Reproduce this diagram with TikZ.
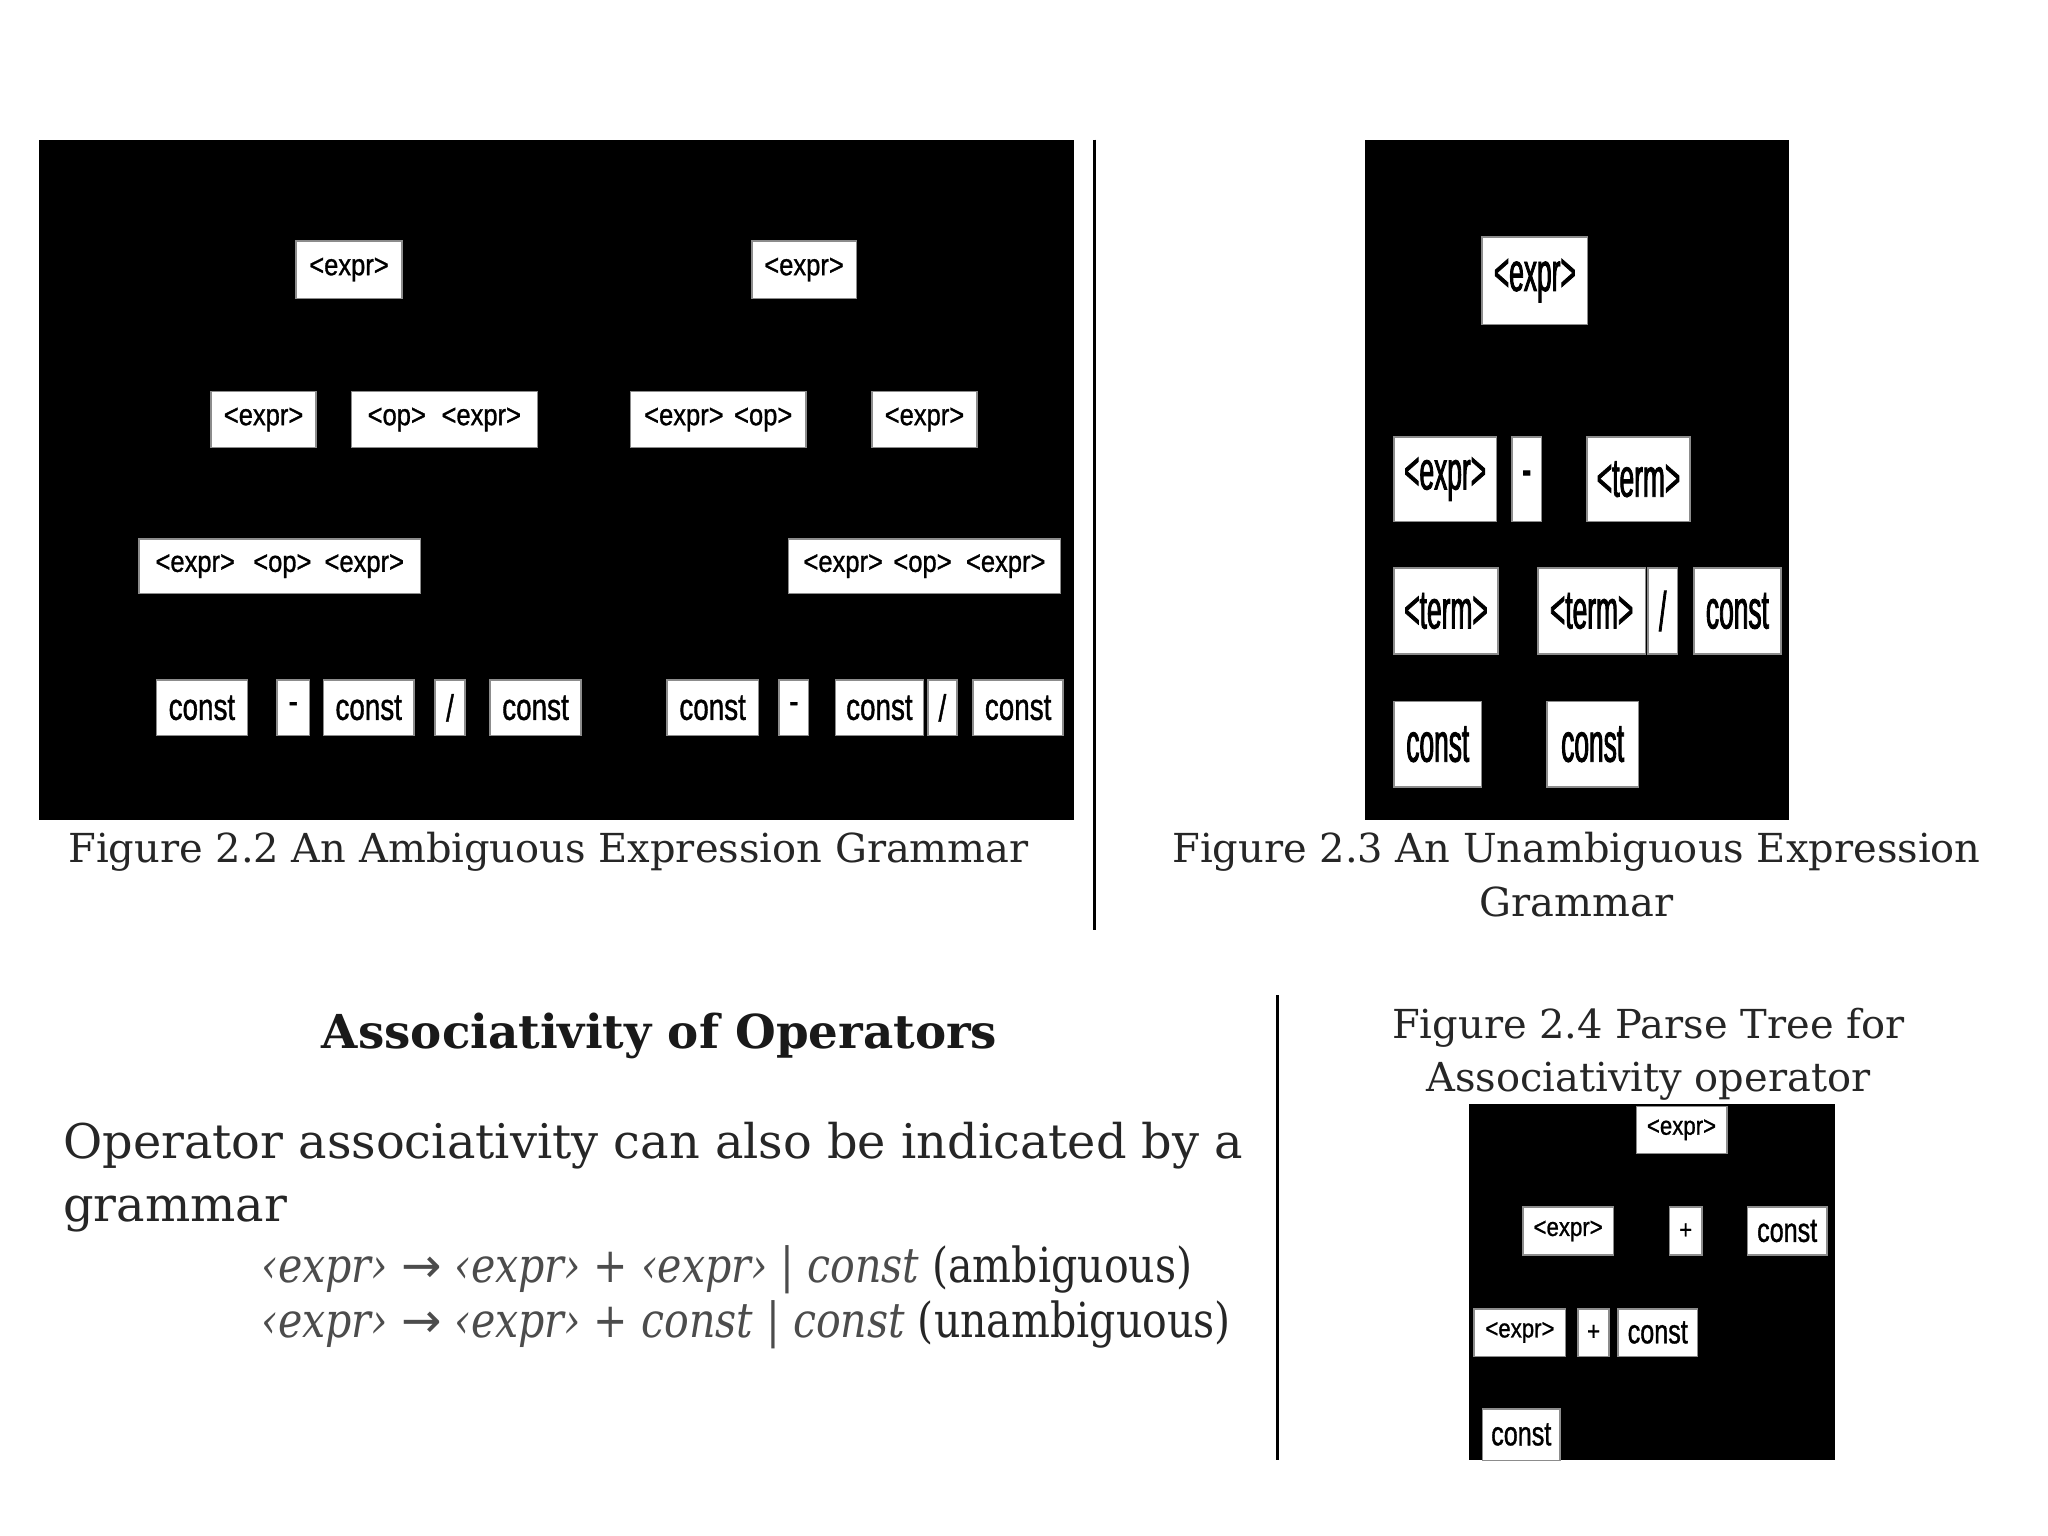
\documentclass[tikz,border=0pt]{standalone}
\usepackage{fontspec}
\setmainfont{DejaVu Serif}
\newfontfamily\exprfont[FakeStretch=0.85, FakeBold=1]{Liberation Sans}
\newfontfamily\constfont[FakeStretch=0.74, FakeBold=1]{Liberation Sans}
\newfontfamily\tallfont[FakeStretch=0.48, FakeBold=1.5]{Liberation Sans}
\newfontfamily\rulefont[FakeStretch=0.85]{DejaVu Serif}
\newfontfamily\arrowfont{DejaVu Sans}
\usetikzlibrary{positioning}

\begin{document}
\begin{tikzpicture}[
    x=0.5pt, y=-0.5pt,
    tok/.style={rectangle, fill=white, draw=black!45, line width=0.6pt,
                inner sep=0pt, text=black},
    small/.style={tok, font=\exprfont\fontsize{11.5}{12}\selectfont},
    smallc/.style={tok, font=\constfont\fontsize{14.4}{15}\selectfont},
    tall/.style={tok, font=\tallfont\fontsize{21}{22}\selectfont},
    tiny/.style={tok, font=\exprfont\fontsize{10}{11}\selectfont},
    tinyc/.style={tok, font=\constfont\fontsize{13}{14}\selectfont},
    capt/.style={inner sep=0pt, text=black!85, font=\fontsize{15.3}{18}\selectfont},
    prose/.style={inner sep=0pt, anchor=base west, text=black!85,
                  font=\fontsize{18.3}{21}\selectfont},
    rule/.style={inner sep=0pt, anchor=base west, text=black!85,
                 font=\rulefont\fontsize{18.5}{20}\selectfont}
]
    \useasboundingbox (0,0) rectangle (1568,1176);

    % Figure 2.2
    \fill[black] (30,107) rectangle (822,628);
    \node[small, minimum width=40.5pt, minimum height=22pt] (a1) at (267.2,206.4) {<expr>};
    \node[small, minimum width=40pt, minimum height=22pt] (b1) at (615.6,206.4) {<expr>};
    \node[small, minimum width=40.2pt, minimum height=21.5pt] (a2) at (201.8,321.2) {<expr>};
    \node[small, minimum width=71.2pt, minimum height=21.5pt] (a3) at (340.2,321.2) {<op>\hspace{6pt}<expr>};
    \node[small, minimum width=67.2pt, minimum height=21.5pt] (b2) at (549.9,321.2) {<expr>\hspace{4pt}<op>};
    \node[small, minimum width=40.3pt, minimum height=21.5pt] (b3) at (707.8,321.2) {<expr>};
    \node[small, minimum width=107.9pt, minimum height=21pt] (a4) at (214.2,433.5) {<expr>\hspace{7pt}<op>\hspace{5pt}<expr>};
    \node[small, minimum width=104.2pt, minimum height=21pt] (b4) at (707.8,433.5) {<expr>\hspace{4pt}<op>\hspace{5.5pt}<expr>};
    \node[smallc, minimum width=34.9pt, minimum height=21.25pt] (a5) at (154.6,542) {const};
    \node[smallc, minimum width=12.5pt, minimum height=21.25pt] (a6) at (224.5,542) {-};
    \node[smallc, minimum width=34.75pt, minimum height=21.25pt] (a7) at (282.3,542) {const};
    \node[smallc, minimum width=11.5pt, minimum height=21.25pt] (a8) at (344.5,542) {/};
    \node[smallc, minimum width=35pt, minimum height=21.25pt] (a9) at (410,542) {const};
    \node[smallc, minimum width=35pt, minimum height=21.25pt] (b5) at (545.6,542) {const};
    \node[smallc, minimum width=11.2pt, minimum height=21.25pt] (b6) at (607.8,542) {-};
    \node[smallc, minimum width=33.7pt, minimum height=21.25pt] (b7) at (673.3,542) {const};
    \node[smallc, minimum width=11pt, minimum height=21.25pt] (b8) at (721.5,542) {/};
    \node[smallc, minimum width=34.5pt, minimum height=21.25pt] (b9) at (779.5,542) {const};
    \node[capt, anchor=base] (cap22) at (420,660) {Figure 2.2 An Ambiguous Expression Grammar};

    \draw[line width=1pt] (838,107) -- (838,712);

    % Figure 2.3
    \fill[black] (1045,107) rectangle (1370,628);
    \node[tall, minimum width=40.3pt, minimum height=33.4pt] (u1) at (1175.1,214.9) {<expr>};
    \node[tall, minimum width=39.2pt, minimum height=32.4pt] (u2) at (1106.4,366.9) {<expr>};
    \node[tall, minimum width=11.4pt, minimum height=32.4pt] (u3) at (1168.9,366.9) {-};
    \node[tall, minimum width=39.6pt, minimum height=32.4pt] (u4) at (1254.5,366.9) {<term>};
    \node[tall, minimum width=39.9pt, minimum height=32.75pt] (u5) at (1107.1,467.8) {<term>};
    \node[tall, minimum width=41.2pt, minimum height=32.75pt] (u6) at (1218.6,467.8) {<term>};
    \node[tall, minimum width=11.4pt, minimum height=32.75pt] (u7) at (1273,467.8) {/};
    \node[tall, minimum width=33.3pt, minimum height=32.75pt] (u8) at (1330.2,467.8) {const};
    \node[tall, minimum width=33.6pt, minimum height=32.8pt] (u9) at (1100.8,569.8) {const};
    \node[tall, minimum width=35pt, minimum height=32.8pt] (u10) at (1219.4,569.8) {const};
    \node[capt, anchor=base] (cap23a) at (1207,660) {Figure 2.3 An Unambiguous Expression};
    \node[capt, anchor=base] (cap23b) at (1207,702) {Grammar};

    % Associativity of Operators
    \node[inner sep=0pt, anchor=base, text=black!90, font=\bfseries\fontsize{17.9}{20}\selectfont] (head) at (505,803) {Associativity of Operators};
    \node[prose] (txt1) at (48,887) {Operator associativity can also be indicated by a};
    \node[prose] (txt2) at (48,935) {grammar};
    \node[rule] (rule1) at (200,982) {{\color{black!70}\itshape ‹expr› {\arrowfont→} ‹expr› + ‹expr› | const} (ambiguous)};
    \node[rule] (rule2) at (200,1024) {{\color{black!70}\itshape ‹expr› {\arrowfont→} ‹expr› + const | const} (unambiguous)};

    \draw[line width=1pt] (978,762) -- (978,1118);

    % Figure 2.4
    \node[capt, anchor=base] (cap24a) at (1262,795) {Figure 2.4 Parse Tree for};
    \node[capt, anchor=base] (cap24b) at (1262,836) {Associativity operator};
    \fill[black] (1125,845) rectangle (1405,1118);
    \node[tiny, minimum width=34.6pt, minimum height=18pt] (p1) at (1287.4,865) {<expr>};
    \node[tiny, minimum width=34.7pt, minimum height=18.5pt] (p2) at (1200.6,942.5) {<expr>};
    \node[tiny, minimum width=12.3pt, minimum height=18.5pt] (p3) at (1290.6,942.5) {+};
    \node[tinyc, minimum width=30.5pt, minimum height=18.5pt] (p4) at (1368.3,942.5) {const};
    \node[tiny, minimum width=35pt, minimum height=18.2pt] (p5) at (1163.7,1020.2) {<expr>};
    \node[tiny, minimum width=11.9pt, minimum height=18.2pt] (p6) at (1220.1,1020.2) {+};
    \node[tinyc, minimum width=30.3pt, minimum height=18.2pt] (p7) at (1269.2,1020.2) {const};
    \node[tinyc, minimum width=29.8pt, minimum height=19.75pt] (p8) at (1164.7,1098.3) {const};
\end{tikzpicture}
\end{document}
